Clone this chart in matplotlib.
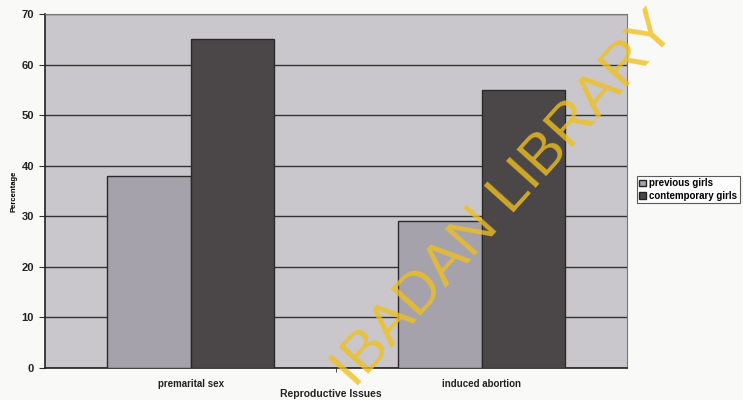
import numpy as np
import matplotlib
matplotlib.use("Agg")
import matplotlib.pyplot as plt
from matplotlib.patches import Patch

# データ
categories = ["premarital sex", "induced abortion"]
previous_girls = [38, 29]
contemporary_girls = [65, 55]
y_ticks = [0, 10, 20, 30, 40, 50, 60, 70]

# 色
COLOR_BG = "#c9c7cb"
COLOR_PREV = "#a6a2ab"
COLOR_CONT = "#4b4749"
COLOR_MARK = "#f0c020"

plt.rcParams["font.family"] = ["Liberation Sans", "DejaVu Sans"]

fig = plt.figure(figsize=(7.43, 4.0), dpi=100)
fig.patch.set_facecolor("#f9f9f8")
ax = fig.add_axes([45 / 743, 32 / 400, 582 / 743, 354 / 400])
ax.set_facecolor(COLOR_BG)

x = np.arange(len(categories))
width = 2 / 3.5 / 2  # Excel gap width 150%
ax.bar(x - width / 2, previous_girls, width, color=COLOR_PREV,
       edgecolor="#2a2a2a", linewidth=1.0, zorder=3, label="previous girls")
ax.bar(x + width / 2, contemporary_girls, width, color=COLOR_CONT,
       edgecolor="#2a2a2a", linewidth=1.0, zorder=3, label="contemporary girls")

# グリッド線
ax.set_ylim(0, 70)
ax.set_yticks(y_ticks)
ax.yaxis.grid(True, color="#333333", linewidth=1.0, zorder=1)
ax.set_axisbelow(True)
ax.set_xlim(-0.5, len(categories) - 0.5)
ax.set_xticks(x)
ax.set_xticklabels(categories, fontsize=7, fontweight="bold", color="#222222")
ax.set_xticks([0.5], minor=True)
ax.tick_params(axis="x", which="major", length=0, pad=8)
ax.tick_params(axis="x", which="minor", length=3, color="#333333")
ax.tick_params(axis="y", length=4, color="#333333", labelsize=8, pad=4)
for t in ax.get_yticklabels():
    t.set_fontweight("bold")
    t.set_color("#222222")

for side in ["left", "bottom"]:
    ax.spines[side].set_color("#222222")
    ax.spines[side].set_linewidth(1.2)
for side in ["top", "right"]:
    ax.spines[side].set_color("#777777")
    ax.spines[side].set_linewidth(0.8)

ax.set_ylabel("Percentage", fontsize=5.5, fontweight="bold")
ax.yaxis.set_label_coords(-28 / 582, 0.5)
fig.text(331 / 743, 6 / 400, "Reproductive Issues", fontsize=7.5,
         fontweight="bold", ha="center", va="center", color="#222222")

# 凡例
handles = [Patch(facecolor=COLOR_PREV, edgecolor="#222222", label="previous girls"),
           Patch(facecolor=COLOR_CONT, edgecolor="#222222", label="contemporary girls")]
leg = fig.legend(handles=handles, loc="upper left",
                 bbox_to_anchor=(637 / 743, 1 - 176 / 400),
                 fontsize=7, frameon=True, fancybox=False, handlelength=0.7,
                 handleheight=0.7, handletextpad=0.3, borderpad=0.25,
                 labelspacing=0.25, borderaxespad=0)
leg.get_frame().set_edgecolor("#333333")
leg.get_frame().set_linewidth(0.8)
for t in leg.get_texts():
    t.set_fontweight("bold")

# 透かし
fig.text(505 / 743, 1 - 200 / 400, "IBADAN LIBRARY", fontsize=42,
         color=COLOR_MARK, alpha=0.8, rotation=48, ha="center", va="center",
         rotation_mode="anchor", zorder=10)

fig.savefig("out.png", dpi=100)
